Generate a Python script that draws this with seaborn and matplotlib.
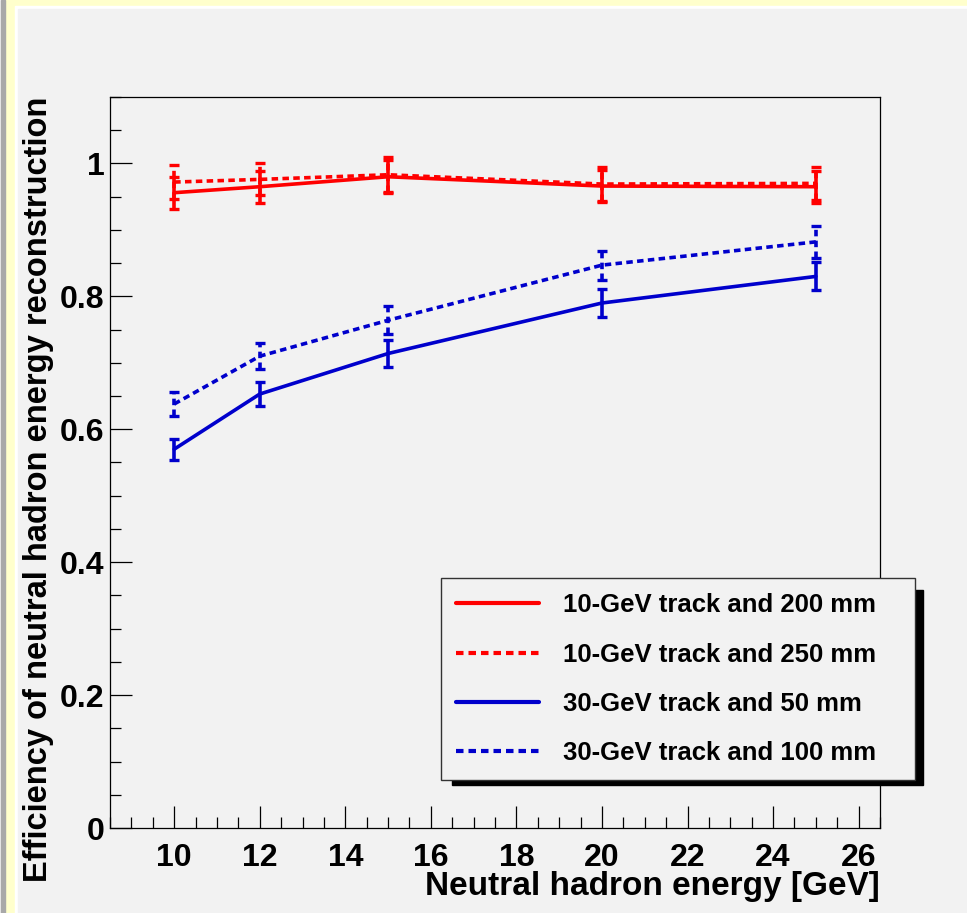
import numpy as np
import pandas as pd
import matplotlib
matplotlib.use('Agg')
import matplotlib.pyplot as plt
import seaborn as sns
from matplotlib.lines import Line2D
from matplotlib.patches import Rectangle
from matplotlib.ticker import MultipleLocator, FuncFormatter

# values
energy = [10, 12, 15, 20, 25]
eff_10gev_200 = [0.956, 0.965, 0.980, 0.966, 0.965]
err_10gev_200 = [0.024, 0.024, 0.025, 0.024, 0.024]
eff_10gev_250 = [0.972, 0.976, 0.983, 0.969, 0.970]
err_10gev_250 = [0.025, 0.024, 0.026, 0.025, 0.025]
eff_30gev_50 = [0.570, 0.653, 0.714, 0.790, 0.830]
err_30gev_50 = [0.016, 0.018, 0.020, 0.021, 0.021]
eff_30gev_100 = [0.638, 0.710, 0.764, 0.847, 0.882]
err_30gev_100 = [0.018, 0.020, 0.021, 0.022, 0.024]

labels = ['10-GeV track and 200 mm', '10-GeV track and 250 mm',
          '30-GeV track and 50 mm', '30-GeV track and 100 mm']
colors = ['#ff0000', '#ff0000', '#0000cc', '#0000cc']
dotted = (0, (1.8, 1.2))
styles = ['-', dotted, '-', dotted]

effs = [eff_10gev_200, eff_10gev_250, eff_30gev_50, eff_30gev_100]
errs = [err_10gev_200, err_10gev_250, err_30gev_50, err_30gev_100]

df = pd.concat([pd.DataFrame({'energy': energy, 'eff': e, 'err': r, 'series': l})
                for e, r, l in zip(effs, errs, labels)], ignore_index=True)

sns.set_style('ticks')
plt.rcParams['font.family'] = ['Liberation Sans', 'DejaVu Sans']
plt.rcParams['font.weight'] = 'bold'
plt.rcParams['text.color'] = 'black'
plt.rcParams['axes.labelcolor'] = 'black'
plt.rcParams['xtick.color'] = 'black'
plt.rcParams['ytick.color'] = 'black'

W, H = 967, 913
fig = plt.figure(figsize=(W / 100, H / 100), dpi=100, facecolor='#f2f2f2')


def fx(px):
    return px / W


def fy(py):
    return 1 - py / H


# canvas border like ROOT
fig.patches.append(Rectangle((fx(5), 0), fx(962), 1, transform=fig.transFigure, color='#ffffcc', zorder=-10))
fig.patches.append(Rectangle((fx(1), 0), fx(4), 1, transform=fig.transFigure, color='#a8a8a8', zorder=-9))
fig.patches.append(Rectangle((fx(15), 0), fx(952), fy(6), transform=fig.transFigure, color='#ffffff', zorder=-8))
fig.patches.append(Rectangle((fx(18), 0), fx(949), fy(9), transform=fig.transFigure, color='#f2f2f2', zorder=-7))

ax = fig.add_axes([fx(110), fy(828), fx(880) - fx(110), fy(97) - fy(828)])
ax.set_facecolor('#f2f2f2')

palette = dict(zip(labels, colors))
dashes = {labels[0]: '', labels[1]: (1.8, 1.2), labels[2]: '', labels[3]: (1.8, 1.2)}
sns.lineplot(data=df, x='energy', y='eff', hue='series', style='series',
             palette=palette, dashes=dashes, linewidth=2.6, legend=False, ax=ax)

for lab, col, st in zip(labels, colors, styles):
    sub = df[df['series'] == lab]
    eb = ax.errorbar(sub['energy'], sub['eff'], yerr=sub['err'], fmt='none',
                     ecolor=col, elinewidth=2.6, capsize=3.5, capthick=2.4)
    if st != '-':
        eb[2][0].set_linestyle(st)

ax.set_xlim(8.5, 26.5)
ax.set_ylim(0, 1.1)
ax.xaxis.set_major_locator(MultipleLocator(2))
ax.xaxis.set_minor_locator(MultipleLocator(0.5))
ax.yaxis.set_major_locator(MultipleLocator(0.2))
ax.yaxis.set_minor_locator(MultipleLocator(0.05))
ax.yaxis.set_major_formatter(FuncFormatter(lambda v, p: '%g' % round(v, 2)))
ax.set_xticks([10, 12, 14, 16, 18, 20, 22, 24, 26])

ax.tick_params(which='both', direction='in', top=False, right=False, width=0.9, color='black')
ax.tick_params(which='major', length=16)
ax.tick_params(which='minor', length=8)
ax.tick_params(axis='y', which='major', labelsize=23, pad=4, labelcolor='black')
ax.tick_params(axis='x', which='major', labelsize=23, pad=11, labelcolor='black')
for t in ax.get_xticklabels() + ax.get_yticklabels():
    t.set_weight('bold')
for s in ax.spines.values():
    s.set_linewidth(0.9)
    s.set_color('black')

ax.set_xlabel('Neutral hadron energy [GeV]', fontsize=24, fontweight='bold', color='black')
ax.xaxis.label.set_ha('right')
ax.xaxis.label.set_va('center')
ax.xaxis.set_label_coords(1.0, (828 - 886) / 731)

ax.set_ylabel('Efficiency of neutral hadron energy reconstruction', fontsize=23.5,
              fontweight='bold', color='black')
ax.yaxis.label.set_ha('right')
ax.yaxis.label.set_va('center')
ax.yaxis.set_label_coords((39 - 110) / 770, 1.0)

handles = [Line2D([0], [0], color=c, lw=3, linestyle=s) for c, s in zip(colors, styles)]
leg = ax.legend(handles, labels, loc='upper left', mode='expand',
                bbox_to_anchor=(fx(441), fy(777), fx(915) - fx(441), fy(578) - fy(777)),
                bbox_transform=fig.transFigure, borderaxespad=0,
                handlelength=3.2, handletextpad=0.95, labelspacing=0.98, borderpad=0.6,
                frameon=True, fancybox=False, facecolor='#f2f2f2', edgecolor='#333333',
                framealpha=1, prop={'weight': 'bold', 'size': 18.5})
leg.get_frame().set_linewidth(1.0)
for t in leg.get_texts():
    t.set_color('black')
leg.set_zorder(6)
shadow = Rectangle((fx(452), fy(785)), fx(923) - fx(452), fy(590) - fy(785),
                   transform=fig.transFigure, color='black', zorder=5, clip_on=False)
ax.add_patch(shadow)

fig.savefig('out.png', dpi=100, facecolor=fig.get_facecolor())
